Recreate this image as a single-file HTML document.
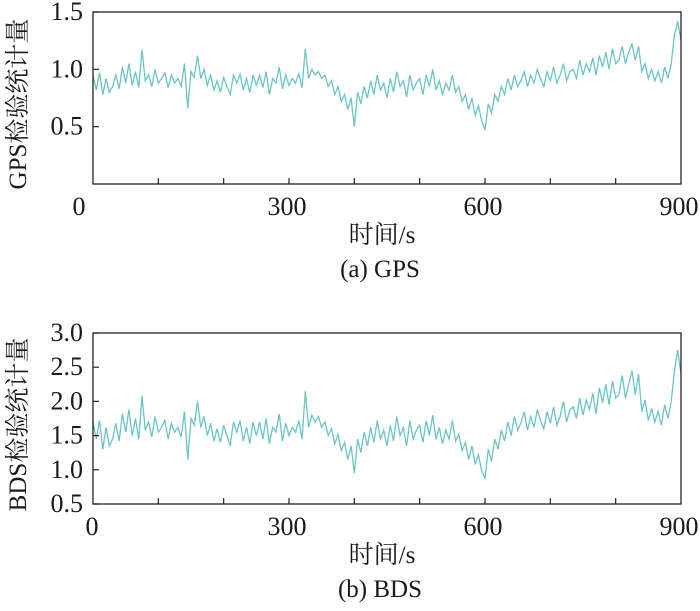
<!DOCTYPE html>
<html><head><meta charset="utf-8"><style>
body{margin:0;background:#fff}
svg text{font-family:"Liberation Serif","Noto Serif CJK SC",serif;fill:#1a1a1a}
</style></head><body>
<svg id="c" width="700" height="606" xmlns="http://www.w3.org/2000/svg"></svg>
<script>
const gpsValues=[0.95,0.82,0.97,0.78,0.92,0.80,0.85,0.95,0.83,1.02,0.88,
1.05,0.86,0.98,0.84,1.17,0.90,0.95,0.85,1.0,0.88,
0.92,0.97,0.84,0.95,0.88,0.92,0.85,1.05,0.66,0.98,
0.93,1.12,0.92,1.0,0.86,0.95,0.82,0.90,0.80,0.93,
0.85,0.78,0.95,0.88,0.96,0.82,0.92,0.80,0.95,0.86,
0.95,0.84,0.98,0.78,0.92,0.88,1.02,0.83,0.95,0.86,
0.92,0.88,0.96,0.84,1.18,0.92,1.0,0.95,0.98,0.92,
0.95,0.85,0.90,0.78,0.85,0.72,0.78,0.65,0.75,0.50,
0.80,0.70,0.85,0.75,0.90,0.78,0.95,0.82,0.88,0.75,
0.92,0.80,0.98,0.85,0.90,0.76,0.95,0.82,0.88,0.92,
0.78,0.95,0.85,1.0,0.82,0.90,0.78,0.88,0.82,0.95,
0.80,0.85,0.72,0.78,0.65,0.75,0.60,0.68,0.55,0.47,
0.70,0.62,0.78,0.72,0.85,0.78,0.92,0.82,0.95,0.85,
0.90,0.98,0.85,0.95,0.88,1.0,0.92,0.85,0.98,0.90,
1.02,0.88,0.95,1.05,0.90,0.98,1.0,0.92,1.08,0.95,
1.05,0.98,1.1,0.95,1.12,1.02,1.15,1.0,1.18,1.05,
1.08,1.2,1.05,1.15,1.22,1.08,1.2,0.98,1.05,0.92,
1.0,0.90,0.98,0.88,1.02,0.92,1.05,1.3,1.42,1.25];
const bdsValues=[1.70,1.45,1.72,1.30,1.62,1.35,1.45,1.68,1.42,1.82,1.55,
1.88,1.50,1.75,1.45,2.08,1.58,1.70,1.48,1.78,1.55,
1.62,1.72,1.45,1.68,1.55,1.62,1.48,1.85,1.15,1.75,
1.65,2.0,1.62,1.78,1.50,1.68,1.42,1.60,1.40,1.65,
1.50,1.35,1.70,1.55,1.72,1.42,1.62,1.38,1.70,1.50,
1.70,1.45,1.75,1.38,1.62,1.55,1.82,1.42,1.68,1.50,
1.62,1.55,1.72,1.45,2.15,1.62,1.80,1.70,1.78,1.62,
1.70,1.50,1.60,1.38,1.52,1.28,1.40,1.15,1.35,0.95,
1.45,1.25,1.55,1.35,1.62,1.40,1.72,1.45,1.58,1.35,
1.65,1.42,1.78,1.50,1.62,1.35,1.72,1.45,1.58,1.65,
1.40,1.72,1.50,1.80,1.45,1.62,1.38,1.58,1.45,1.72,
1.42,1.52,1.28,1.40,1.15,1.35,1.08,1.22,0.98,0.88,
1.30,1.12,1.45,1.30,1.58,1.42,1.70,1.50,1.78,1.58,
1.68,1.85,1.58,1.78,1.62,1.88,1.72,1.60,1.85,1.68,
1.92,1.65,1.78,2.0,1.70,1.88,1.92,1.75,2.05,1.80,
2.02,1.88,2.12,1.82,2.20,1.98,2.25,1.95,2.30,2.05,
2.10,2.38,2.05,2.25,2.45,2.10,2.40,1.85,2.02,1.72,
1.90,1.70,1.85,1.65,1.95,1.75,2.0,2.45,2.75,2.40];
const timeStep=5;
const xTickLabels=["0","300","600","900"];
const gpsYTicks=["0.5","1.0","1.5"];
const bdsYTicks=["0.5","1.0","1.5","2.0","2.5","3.0"];

const svg=document.getElementById('c');
const NS='http://www.w3.org/2000/svg';
function mk(tag,attrs,parent){const e=document.createElementNS(NS,tag);for(const k in attrs)e.setAttribute(k,attrs[k]);(parent||svg).appendChild(e);return e;}

function panel(o){
  const g=mk('g',{});
  
  
  const L=93,R=681,T=o.top,B=o.bottom;
  const xs=v=>L+(v/900)*(R-L);
  const ys=v=>B-(v-o.ymin)/(o.ymax-o.ymin)*(B-T);
  let d='';
  o.values.forEach((v,i)=>{d+=(i?'L':'M')+xs(i*timeStep).toFixed(2)+','+ys(v).toFixed(2);});
  const p=mk('path',{d:d,fill:'none',stroke:'#6cc4c4','stroke-width':1.3},g);
  
  
  const r=mk('rect',{x:L,y:T,width:R-L,height:B-T,fill:'none',stroke:'#222','stroke-width':1.3},g);
  
  
  for(let t=100;t<900;t+=100){
    const tk=mk('line',{x1:xs(t),x2:xs(t),y1:B,y2:B-6,stroke:'#222','stroke-width':1.2},g);
    
    
  }
  xTickLabels.forEach(s=>{
    const v=+s;
    const tx=mk('text',{x:v===0?o.zeroX:xs(v)-2,y:B+31,'font-size':26,'text-anchor':'middle'},g);
    tx.textContent=s;
    
    
  });
  o.yticks.forEach(s=>{
    const v=+s;
    const tk=mk('line',{x1:L,x2:L+6,y1:ys(v),y2:ys(v),stroke:'#222','stroke-width':1.2},g);
    
    
    const tx=mk('text',{x:83,y:ys(v)+8,'font-size':26,'text-anchor':'end'},g);
    tx.textContent=s;
    
    
  });
  const yt=mk('text',{x:0,y:0,'font-size':25,'text-anchor':'middle',transform:`translate(26,${(T+B)/2+6}) rotate(-90)`},g);
  yt.textContent=o.ytitle;
  
  
  const xt=mk('text',{x:382,y:B+59,'font-size':25,'text-anchor':'middle'},g);
  xt.textContent='时间/s';
  
  
  const cap=mk('text',{x:380,y:B+93,'font-size':25,'text-anchor':'middle'},g);
  cap.textContent=o.caption;
  
  
}
panel({name:'gps-chart',prefix:'gps',top:12,bottom:184,ymin:0,ymax:1.5,values:gpsValues,yticks:gpsYTicks,ytitle:'GPS检验统计量',caption:'(a) GPS',zeroX:79});
panel({name:'bds-chart',prefix:'bds',top:333,bottom:504,ymin:0.5,ymax:3.0,values:bdsValues,yticks:bdsYTicks,ytitle:'BDS检验统计量',caption:'(b) BDS',zeroX:92});
</script>
</body></html>
